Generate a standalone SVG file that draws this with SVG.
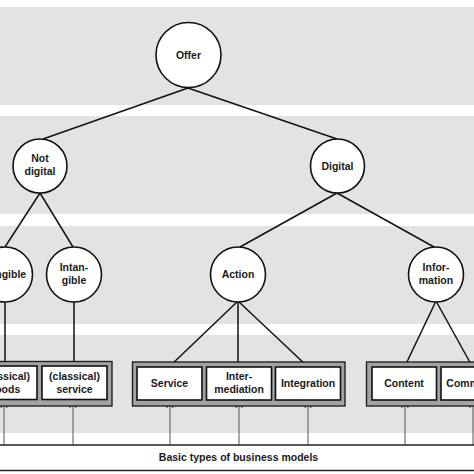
<svg xmlns="http://www.w3.org/2000/svg" width="474" height="474" viewBox="0 0 474 474">
<defs>
<style>
.band{fill:#e3e3e3}
.node circle{fill:#fff;stroke:#111;stroke-width:1.6}
.frame{fill:#a3a3a3;stroke:#222;stroke-width:1.4}
.box rect{fill:#fff;stroke:#111;stroke-width:1.6}
text{font-family:"Liberation Sans",Arial,sans-serif;font-size:10.5px;font-weight:bold;fill:#1a1a1a;text-anchor:middle}
.edge{stroke:#111;stroke-width:1.5;fill:none}
.arr{stroke:#555;stroke-width:1;fill:none;marker-end:url(#ah)}
</style>
<marker id="ah" markerWidth="10" markerHeight="10" refX="4" refY="0.8" orient="0" markerUnits="userSpaceOnUse">
<path d="M0.8,7.5 L4,0.5 L7.2,7.5" fill="none" stroke="#222" stroke-width="1.1"/>
</marker>
</defs>
<rect width="474" height="474" fill="#fff"/>
<rect class="band" x="0" y="7" width="474" height="98"/>
<rect class="band" x="0" y="116" width="474" height="98"/>
<rect class="band" x="0" y="226" width="474" height="98"/>
<rect class="band" x="0" y="335" width="474" height="98"/>

<g id="connectors">
<line class="edge" x1="188" y1="88" x2="43" y2="139"/>
<line class="edge" x1="188" y1="88" x2="337" y2="139"/>
<line class="edge" x1="40" y1="193" x2="5" y2="247"/>
<line class="edge" x1="40" y1="193" x2="73" y2="247"/>
<line class="edge" x1="337" y1="193" x2="240" y2="247"/>
<line class="edge" x1="337" y1="193" x2="434" y2="247"/>
<line class="edge" x1="5" y1="302" x2="5" y2="366"/>
<line class="edge" x1="74" y1="301" x2="74" y2="366"/>
<line class="edge" x1="238" y1="301" x2="170" y2="366"/>
<line class="edge" x1="238" y1="301" x2="238" y2="366"/>
<line class="edge" x1="238" y1="301" x2="307" y2="366"/>
<line class="edge" x1="436" y1="301" x2="405" y2="366"/>
<line class="edge" x1="436" y1="301" x2="472" y2="366"/>
<line class="arr" x1="4" y1="445" x2="4" y2="401"/>
<line class="arr" x1="73" y1="445" x2="73" y2="401"/>
<line class="arr" x1="170" y1="445" x2="170" y2="401"/>
<line class="arr" x1="239" y1="445" x2="239" y2="401"/>
<line class="arr" x1="308" y1="445" x2="308" y2="401"/>
<line class="arr" x1="405" y1="445" x2="405" y2="401"/>
<line class="arr" x1="473" y1="445" x2="473" y2="401"/>
<line x1="0" y1="445" x2="474" y2="445" stroke="#222" stroke-width="1.3"/>
<line x1="0" y1="470.5" x2="474" y2="470.5" stroke="#222" stroke-width="1.3"/>
</g>

<g id="offer" class="node"><circle cx="188.5" cy="55" r="32.5"/><text x="188.5" y="58.5">Offer</text></g>
<g id="notdigital" class="node"><circle cx="40" cy="166" r="27"/><text x="40" y="162">Not</text><text x="40" y="175">digital</text></g>
<g id="digital" class="node"><circle cx="337.5" cy="166" r="27"/><text x="337.5" y="169.5">Digital</text></g>
<g id="tangible" class="node"><circle cx="5" cy="274.5" r="27.5"/><text x="5" y="278">Tangible</text></g>
<g id="intangible" class="node"><circle cx="74" cy="274.5" r="27.5"/><text x="74" y="271">Intan-</text><text x="74" y="284">gible</text></g>
<g id="action" class="node"><circle cx="238" cy="274.5" r="27.5"/><text x="238" y="278">Action</text></g>
<g id="information" class="node"><circle cx="436" cy="274.5" r="27.5"/><text x="436" y="271">Infor-</text><text x="436" y="284">mation</text></g>

<g id="group-classical">
<rect class="frame" x="-40" y="361.5" width="152" height="44.5"/>
<g id="goods" class="box"><rect x="-28" y="366" width="65" height="33.5"/><text x="4.5" y="380">(classical)</text><text x="4.5" y="393">goods</text></g>
<g id="cservice" class="box"><rect x="42" y="366" width="65" height="33.5"/><text x="74.5" y="380">(classical)</text><text x="74.5" y="393">service</text></g>
</g>

<g id="group-action">
<rect class="frame" x="132.5" y="362" width="212.5" height="44"/>
<g id="service" class="box"><rect x="137" y="367" width="65" height="33"/><text x="169.5" y="387">Service</text></g>
<g id="intermediation" class="box"><rect x="206.5" y="367" width="65" height="33"/><text x="239" y="380">Inter-</text><text x="239" y="393">mediation</text></g>
<g id="integration" class="box"><rect x="275.5" y="367" width="65" height="33"/><text x="308" y="387">Integration</text></g>
</g>

<g id="group-information">
<rect class="frame" x="366.5" y="362" width="150" height="44"/>
<g id="content" class="box"><rect x="372" y="367" width="64.5" height="33"/><text x="404" y="387">Content</text></g>
<g id="commerce" class="box"><rect x="441" y="367" width="65" height="33"/><text x="473.5" y="387">Commerce</text></g>
</g>

<text x="238.5" y="461">Basic types of business models</text>
</svg>
